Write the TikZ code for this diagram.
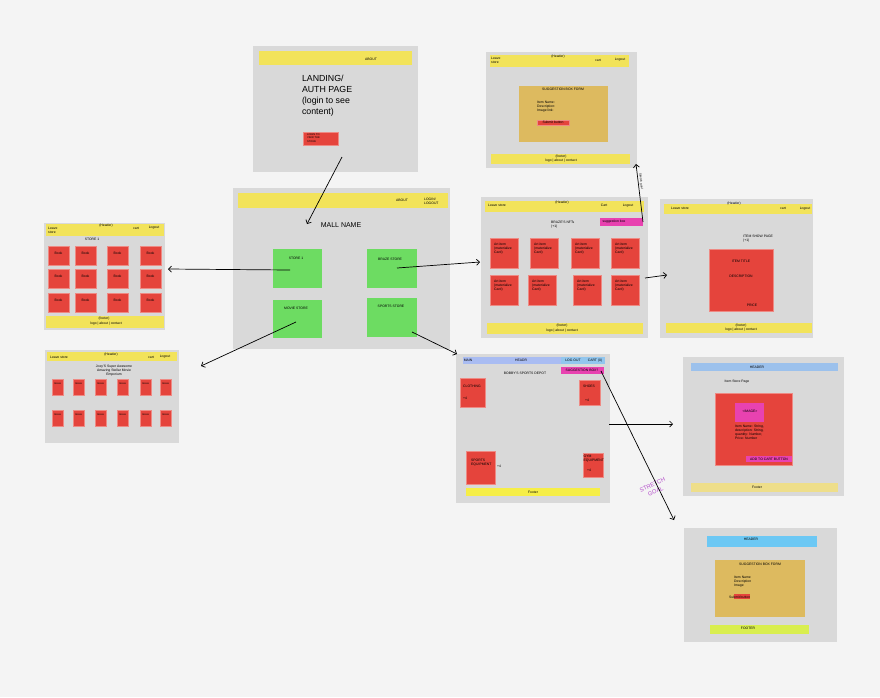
\documentclass[tikz,border=0pt]{standalone}
\usepackage{fontspec}
\setmainfont{Liberation Sans}
\usetikzlibrary{positioning,arrows.meta}

\definecolor{canvas}{HTML}{F4F4F4}
\definecolor{framegray}{HTML}{D9D9D9}
\definecolor{hdryellow}{HTML}{F2E35A}
\definecolor{boxred}{HTML}{E5443C}
\definecolor{boxredline}{HTML}{EE8A84}
\definecolor{storegreen}{HTML}{6DDC62}
\definecolor{mustard}{HTML}{DDBA5F}
\definecolor{hotpink}{HTML}{E842B0}
\definecolor{navblue}{HTML}{A9BCF2}
\definecolor{navcyan}{HTML}{92C6EE}
\definecolor{pageblue}{HTML}{9CC1EC}
\definecolor{skyblue}{HTML}{6CC8F4}
\definecolor{limegreen}{HTML}{D9EE4F}
\definecolor{paleyellow}{HTML}{EEDE8A}
\definecolor{brightyellow}{HTML}{F6EE47}
\definecolor{goalpurple}{HTML}{B44DCB}

\begin{document}
\begin{tikzpicture}[x=1pt, y=-1pt,
    box/.style={anchor=north west, inner sep=0pt, outer sep=0pt},
    frame/.style={box, fill=framegray},
    hdr/.style={box, fill=hdryellow},
    redbox/.style={box, fill=boxred, draw=boxredline, line width=0.4pt},
    storebox/.style={box, fill=storegreen},
    formbox/.style={box, fill=mustard},
    pinkbox/.style={box, fill=hotpink},
    txt/.style={inner sep=0pt, font=\fontsize{3.4}{4.1}\selectfont},
    txtnw/.style={txt, anchor=north west, align=left},
    conn/.style={-{Straight Barb[length=3pt,width=6pt]}, line width=0.7pt},
  ]

  % Canvas
  \fill[canvas] (0,0) rectangle (880,697);

  % Landing / auth page
  \node[frame, minimum width=165, minimum height=126] (landing) at (253,46) {};
  \node[hdr, minimum width=153, minimum height=14] (landing-hdr) at (259,51) {};
  \node[txt] (landing-about) at (371,59) {ABOUT};
  \node[box, align=left, font=\fontsize{8.8}{11}\selectfont] (landing-title) at (302,75) {LANDING/\\AUTH PAGE\\(login to see\\content)};
  \node[redbox, minimum width=35, minimum height=13] (login) at (303,132) {};
  \node[txtnw, font=\fontsize{2.6}{3.4}\selectfont] (login-lbl) at (307,133.5) {LOGIN TO\\VIEW THE\\STORE};

  % Mall page with the four stores
  \node[frame, minimum width=217, minimum height=161] (mall) at (233,188) {};
  \node[hdr, minimum width=210, minimum height=15] (mall-hdr) at (238,193) {};
  \node[txt] (mall-about) at (402,200) {ABOUT};
  \node[txtnw] (mall-login) at (424,197.5) {LOGIN/\\LOGOUT};
  \node[inner sep=0pt, font=\fontsize{7}{8}\selectfont] (mall-name) at (341,225) {MALL NAME};
  \node[storebox, minimum width=49, minimum height=39] (store1) at (273,249) {};
  \node[txt] (store1-lbl) at (296,258) {STORE 1};
  \node[storebox, minimum width=50, minimum height=39] (braze) at (367,249) {};
  \node[txt] (braze-lbl) at (390,259) {BRAZE STORE};
  \node[storebox, minimum width=49, minimum height=38] (movie) at (273,300) {};
  \node[txt] (movie-lbl) at (296,308) {MOVIE STORE};
  \node[storebox, minimum width=50, minimum height=39] (sports) at (367,298) {};
  \node[txt] (sports-lbl) at (391,306) {SPORTS STORE};

  % Store 1 page
  \node[frame, minimum width=121, minimum height=107] (store1page) at (44,223) {};
  \node[hdr, minimum width=118, minimum height=12] (store1page-hdr) at (46,224) {};
  \node[txtnw] (store1page-leave) at (48,227) {Leave\\store};
  \node[txt] (store1page-header) at (106,226) {(Header)};
  \node[txt] (store1page-cart) at (136,228) {cart};
  \node[txt] (store1page-logout) at (154,228) {Logout};
  \node[txt] (store1page-title) at (92,239) {STORE 1};
  \foreach \c/\x in {1/48,2/75,3/107,4/140}
    \foreach \r/\y in {1/246,2/269,3/293} {
      \node[redbox, minimum width=21, minimum height=19] (book-\c-\r) at (\x,\y) {};
      \node[txt] (book-\c-\r-lbl) at ([yshift=-7pt]book-\c-\r.north) {Book};
    }
  \node[hdr, minimum width=118, minimum height=12] (store1page-ftr) at (46,316) {};
  \node[txt] (store1page-footer) at (104,318.5) {(footer)};
  \node[txt] (store1page-links) at (106,323.5) {logo | about | contact};

  % Movie store page
  \node[frame, minimum width=134, minimum height=93] (moviepage) at (45,350) {};
  \node[hdr, minimum width=130, minimum height=9] (moviepage-hdr) at (47,352) {};
  \node[txt] (moviepage-leave) at (59,357) {Leave store};
  \node[txt] (moviepage-header) at (111,355) {(Header)};
  \node[txt] (moviepage-cart) at (151,357) {cart};
  \node[txt] (moviepage-logout) at (165,357) {Logout};
  \node[txt, align=center] (moviepage-title) at (114,370.5) {Joey'S Super Awesome\\Amazing Stellar Movie\\Emporium};
  \foreach \c/\x in {1/52,2/73,3/95,4/117,5/140,6/160}
    \foreach \r/\y in {1/379,2/410} {
      \node[redbox, minimum width=11, minimum height=16] (film-\c-\r) at (\x,\y) {};
      \node[txt, font=\fontsize{2.6}{3}\selectfont] (film-\c-\r-lbl) at ([yshift=-5pt]film-\c-\r.north) {movie};
    }

  % Suggestion box page (top)
  \node[frame, minimum width=151, minimum height=116] (suggpage) at (486,52) {};
  \node[hdr, minimum width=139, minimum height=12] (suggpage-hdr) at (490,55) {};
  \node[txtnw] (suggpage-leave) at (491,57) {Leave\\store};
  \node[txt] (suggpage-header) at (558,57) {(Header)};
  \node[txt] (suggpage-cart) at (598,60) {cart};
  \node[txt] (suggpage-logout) at (620,60) {Logout};
  \node[formbox, minimum width=89, minimum height=56] (suggform) at (519,86) {};
  \node[txt] (suggform-title) at (563,89) {SUGGESTION BOX FORM};
  \node[txtnw] (suggform-fields) at (537,101) {Item Name:\\Description:\\Image link:};
  \node[redbox, minimum width=32, minimum height=5] (suggform-submit) at (537,120) {};
  \node[txt] (suggform-submit-lbl) at (553,122.5) {Submit button};
  \node[hdr, minimum width=139, minimum height=10] (suggpage-ftr) at (491,154) {};
  \node[txt] (suggpage-footer) at (561,157) {(footer)};
  \node[txt] (suggpage-links) at (561,161) {logo | about | contact};

  % Braze store page
  \node[frame, minimum width=167, minimum height=141] (brazepage) at (481,197) {};
  \node[hdr, minimum width=159, minimum height=11] (brazepage-hdr) at (485,201) {};
  \node[txt] (brazepage-leave) at (497,205.5) {Leave store};
  \node[txt] (brazepage-header) at (562,202.5) {(Header)};
  \node[txt] (brazepage-cart) at (604,205.5) {Cart};
  \node[txt] (brazepage-logout) at (628,205.5) {Logout};
  \node[pinkbox, minimum width=43, minimum height=8] (brazepage-sugg) at (600,218) {};
  \node[txt] (brazepage-sugg-lbl) at (614,222) {suggestion box};
  \node[txtnw] (brazepage-title) at (551,221) {BRAZE'S NFTs\\(+1)};
  \foreach \i/\x/\y in {1/490/238,2/530/238,3/571/238,4/611/238,5/490/275,6/528/275,7/573/275,8/611/275} {
    \node[redbox, minimum width=28, minimum height=30] (art-\i) at (\x,\y) {};
    \node[txtnw] (art-\i-lbl) at ([xshift=4pt,yshift=-4.5pt]art-\i.north west) {Art item\\(materialize\\Card)};
  }
  \node[hdr, minimum width=156, minimum height=11] (brazepage-ftr) at (487,323) {};
  \node[txt] (brazepage-footer) at (562,326) {(footer)};
  \node[txt] (brazepage-links) at (562,330.5) {logo | about | contact};

  % Item show page
  \node[frame, minimum width=153, minimum height=139] (showpage) at (660,199) {};
  \node[hdr, minimum width=148, minimum height=10] (showpage-hdr) at (664,204) {};
  \node[txt] (showpage-leave) at (680,208.5) {Leave store};
  \node[txt] (showpage-header) at (734,203.5) {(Header)};
  \node[txt] (showpage-cart) at (783,208.5) {cart};
  \node[txt] (showpage-logout) at (805,208.5) {Logout};
  \node[txtnw] (showpage-title) at (743,234.5) {ITEM SHOW PAGE\\(+1)};
  \node[redbox, minimum width=64, minimum height=62] (showitem) at (709,249) {};
  \node[txt] (showitem-title) at (741,261) {ITEM TITLE};
  \node[txt] (showitem-desc) at (741,276.5) {DESCRIPTION};
  \node[txt] (showitem-price) at (752,305.5) {PRICE};
  \node[hdr, minimum width=146, minimum height=10] (showpage-ftr) at (666,323) {};
  \node[txt] (showpage-footer) at (741,325.5) {(footer)};
  \node[txt] (showpage-links) at (741,330) {logo | about | contact};

  % Sports store page
  \node[frame, minimum width=154, minimum height=149] (sportspage) at (456,354) {};
  \node[box, fill=navblue, minimum width=142, minimum height=7] (sportspage-hdr) at (463,357) {};
  \node[box, fill=navcyan, minimum width=44, minimum height=7] (sportspage-nav) at (561,357) {};
  \node[txt] (sportspage-main) at (468,360.5) {MAIN};
  \node[txt] (sportspage-header) at (521,360.5) {HEADR};
  \node[txt] (sportspage-logout) at (573,360.5) {LOG OUT};
  \node[txt] (sportspage-cart) at (595,360.5) {CART (0)};
  \node[pinkbox, minimum width=43, minimum height=7] (sportspage-sugg) at (561,367) {};
  \node[txt] (sportspage-sugg-lbl) at (582,370.5) {SUGGESTION BOX?};
  \node[txt] (sportspage-title) at (525,373.5) {BOBBY'S SPORTS DEPOT};
  \node[redbox, minimum width=25, minimum height=29] (clothing) at (460,378) {};
  \node[txtnw] (clothing-lbl) at (463,384.5) {CLOTHING};
  \node[txtnw] (clothing-count) at (463,397) {+4};
  \node[redbox, minimum width=21, minimum height=25] (shoes) at (579,380) {};
  \node[txt] (shoes-lbl) at (589,386.5) {SHOES};
  \node[txt] (shoes-count) at (587,400) {+4};
  \node[redbox, minimum width=29, minimum height=33] (equipment) at (466,451) {};
  \node[txtnw] (equipment-lbl) at (471,459) {SPORTS\\ EQUIPMENT};
  \node[txt] (equipment-count) at (499,466) {+4};
  \node[redbox, minimum width=20, minimum height=24] (gym) at (583,453) {};
  \node[txtnw] (gym-lbl) at (583.5,455) {GYM\\EQUIPMENT};
  \node[txt] (gym-count) at (589,470) {+4};
  \node[box, fill=brightyellow, minimum width=134, minimum height=8] (sportspage-ftr) at (466,488) {};
  \node[txt] (sportspage-footer) at (533,492) {Footer};

  % Item store page
  \node[frame, minimum width=161, minimum height=139] (storepage) at (683,357) {};
  \node[box, fill=pageblue, minimum width=147, minimum height=8] (storepage-hdr) at (691,363) {};
  \node[txt] (storepage-header) at (757,367) {HEADER};
  \node[txt] (storepage-title) at (737,381.5) {Item Store Page};
  \node[redbox, minimum width=77, minimum height=72] (storeitem) at (715,393) {};
  \node[pinkbox, minimum width=29, minimum height=19] (storeitem-img) at (735,403) {};
  \node[txt] (storeitem-img-lbl) at (750,411) {<IMAGE>};
  \node[txtnw] (storeitem-fields) at (735,425) {Item Name: String,\\description: String,\\quantity: Number,\\Price: Number};
  \node[pinkbox, minimum width=46, minimum height=6] (storeitem-add) at (746,456) {};
  \node[txt] (storeitem-add-lbl) at (769,459) {ADD TO CART BUTTON};
  \node[box, fill=paleyellow, minimum width=147, minimum height=9] (storepage-ftr) at (691,483) {};
  \node[txt] (storepage-footer) at (757,487.5) {Footer};

  % Suggestion box page (bottom)
  \node[frame, minimum width=153, minimum height=114] (formpage) at (684,528) {};
  \node[box, fill=skyblue, minimum width=110, minimum height=11] (formpage-hdr) at (707,536) {};
  \node[txt] (formpage-header) at (751,539.5) {HEADER};
  \node[formbox, minimum width=90, minimum height=57] (formbox2) at (715,560) {};
  \node[txt] (formbox2-title) at (760,564) {SUGGESTION BOX FORM};
  \node[txtnw] (formbox2-fields) at (734,575.5) {Item Name ~\\Description~\\Image~};
  \node[box, fill=boxred, minimum width=16, minimum height=5] (formbox2-submit) at (734,594) {};
  \node[txt, anchor=west] (formbox2-submit-lbl) at (729,597) {Submit button};
  \node[box, fill=limegreen, minimum width=99, minimum height=9] (formpage-ftr) at (710,625) {};
  \node[txt] (formpage-footer) at (748,628) {FOOTER};

  % Stretch goal notes
  \node[txt, font=\fontsize{3}{3.6}\selectfont, rotate=-84] (note-small) at (641,181) {Stretch goal};
  \node[inner sep=0pt, align=center, text=goalpurple, font=\fontsize{5.8}{7.6}\selectfont, rotate=25] (note-goal) at (654,488) {STRETCH\\GOAL};

  % Arrows between pages
  \coordinate (landing-out) at (342,157);
  \coordinate (mall-in) at (307,224);
  \coordinate (store1-out) at (290,270);
  \coordinate (store1page-in) at (168,269);
  \coordinate (braze-out) at (397,268);
  \coordinate (brazepage-in) at (480,262);
  \coordinate (movie-out) at (296,322);
  \coordinate (moviepage-in) at (201,366);
  \coordinate (sports-out) at (412,332);
  \coordinate (sportspage-in) at (457,354);
  \coordinate (suggpage-in) at (636,164);
  \coordinate (brazepage-out) at (645,278);
  \coordinate (showpage-in) at (667,275);
  \coordinate (sportspage-out) at (609,424);
  \coordinate (storepage-in) at (673,424);
  \coordinate (sportssugg-out) at (601,371);
  \coordinate (formpage-in) at (674,520);
  \draw[conn] (landing-out) -- (mall-in);
  \draw[conn] (store1-out) -- (store1page-in);
  \draw[conn] (braze-out) -- (brazepage-in);
  \draw[conn] (movie-out) -- (moviepage-in);
  \draw[conn] (sports-out) -- (sportspage-in);
  \draw[conn] (brazepage-sugg.east) -- (suggpage-in);
  \draw[conn] (brazepage-out) -- (showpage-in);
  \draw[conn] (sportspage-out) -- (storepage-in);
  \draw[conn] (sportssugg-out) -- (formpage-in);

\end{tikzpicture}
\end{document}
